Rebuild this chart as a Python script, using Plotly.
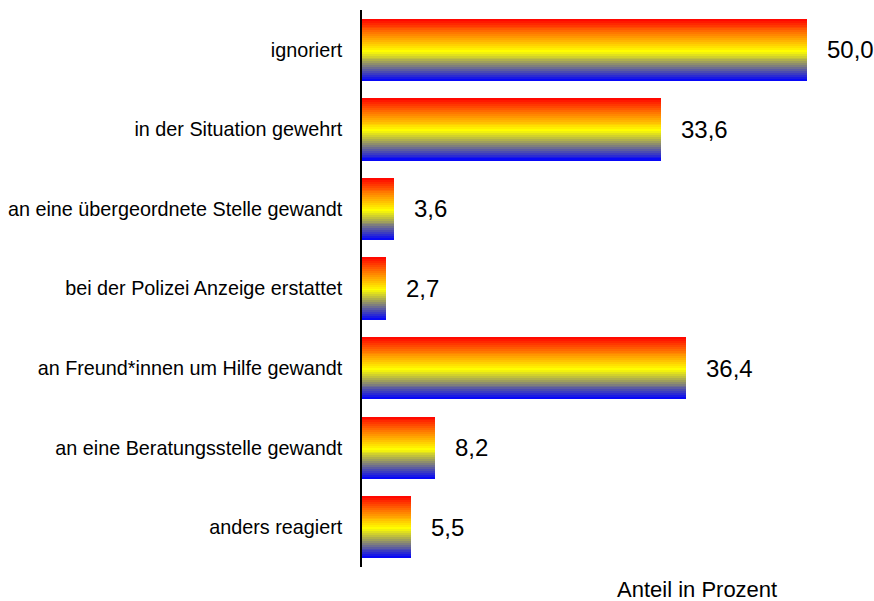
import plotly.graph_objects as go

categories = [
    "ignoriert",
    "in der Situation gewehrt",
    "an eine übergeordnete Stelle gewandt",
    "bei der Polizei Anzeige erstattet",
    "an Freund*innen um Hilfe gewandt",
    "an eine Beratungsstelle gewandt",
    "anders reagiert",
]
values = [50.0, 33.6, 3.6, 2.7, 36.4, 8.2, 5.5]

# vertical gradient of each bar, top -> bottom
grad_stops = [
    (0.0, (255, 0, 0)),
    (0.25, (255, 128, 0)),
    (0.52, (255, 255, 0)),
    (0.72, (150, 150, 100)),
    (1.0, (0, 0, 255)),
]


def grad_color(t):
    for (t0, c0), (t1, c1) in zip(grad_stops[:-1], grad_stops[1:]):
        if t <= t1:
            f = (t - t0) / (t1 - t0)
            r, g, b = (round(a + (b_ - a) * f) for a, b_ in zip(c0, c1))
            return f"rgb({r},{g},{b})"
    return "rgb(0,0,255)"


FONT = "Liberation Sans, Arial, sans-serif"
bar_w = 0.78
n_strips = 32
strip_w = bar_w / n_strips

fig = go.Figure()
for i in range(n_strips):
    fig.add_trace(go.Bar(
        y=categories,
        x=values,
        orientation="h",
        width=strip_w * 1.08,
        offset=-bar_w / 2 + i * strip_w,
        marker=dict(color=grad_color((i + 0.5) / n_strips), line=dict(width=0)),
        hoverinfo="skip",
        showlegend=False,
    ))

for cat, v in zip(categories, values):
    fig.add_annotation(
        x=v, y=cat,
        text=f"{v:.1f}".replace(".", ","),
        showarrow=False,
        xanchor="left",
        xshift=18,
        font=dict(size=24, color="black", family=FONT),
    )

fig.add_annotation(
    x=0.655, y=-0.04,
    xref="paper", yref="paper",
    text="Anteil in Prozent",
    showarrow=False,
    xanchor="center",
    yanchor="middle",
    font=dict(size=22, color="black", family=FONT),
)

fig.update_layout(
    width=874,
    height=601,
    barmode="overlay",
    bargap=0,
    plot_bgcolor="white",
    paper_bgcolor="white",
    font=dict(family=FONT, color="black"),
    margin=dict(l=362, r=0, t=10, b=34),
    xaxis=dict(
        range=[0, 512 / 8.9],
        showgrid=False,
        zeroline=False,
        showticklabels=False,
        showline=False,
        fixedrange=True,
    ),
    yaxis=dict(
        autorange="reversed",
        showgrid=False,
        showline=True,
        linecolor="black",
        linewidth=1.5,
        ticks="",
        ticklabelstandoff=14,
        tickfont=dict(size=19.8, color="black", family=FONT),
    ),
)

# drop the default body margin so the figure fills the window exactly
fig.write_html(
    "out.html",
    config={"displayModeBar": False},
    post_script="document.body.style.margin = '0';",
)
